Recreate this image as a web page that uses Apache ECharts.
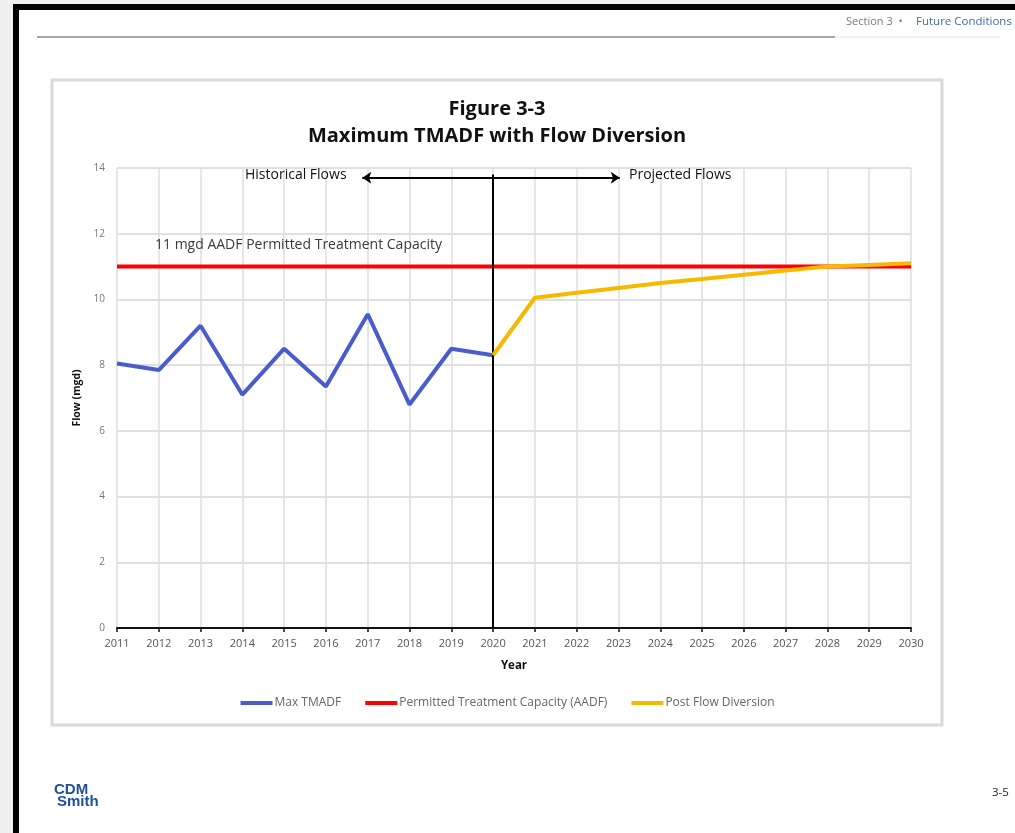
<!DOCTYPE html>
<html>
<head>
<meta charset="utf-8">
<script src="https://cdn.jsdelivr.net/npm/echarts@6/dist/echarts.min.js"></script>
<style>
html,body{margin:0;padding:0;background:#f0f0f0;}
#c{width:1015px;height:833px;}
</style>
</head>
<body>
<div id="c"></div>
<script>
const years = [2011,2012,2013,2014,2015,2016,2017,2018,2019,2020,2021,2022,2023,2024,2025,2026,2027,2028,2029,2030];
const maxTmadfYears = [2011,2012,2013,2014,2015,2016,2017,2018,2019,2020];
const maxTmadf = [8.05,7.85,9.2,7.1,8.5,7.35,9.55,6.8,8.5,8.3];
const capacity = [11,11,11,11,11,11,11,11,11,11,11,11,11,11,11,11,11,11,11,11];
const postYears = [2020,2021,2022,2023,2024,2025,2026,2027,2028,2029,2030];
const postFlow = [8.3,10.05,10.2,10.35,10.5,10.62,10.75,10.88,11.0,11.05,11.1];
const yTicks = [0,2,4,6,8,10,12,14];
const dividerYear = 2020;
const arrowLeftEnd = 2016.87;
const arrowRightEnd = 2023.03;
const arrowLevel = 13.7;

const FONT = 'Open Sans';
const chart = echarts.init(document.getElementById('c'));

const pair = (xs, ys) => xs.map((x, i) => [x, ys[i]]);

chart.setOption({
  backgroundColor: '#f0f0f0',
  animation: false,
  textStyle: { fontFamily: FONT },
  graphic: [
    { type: 'rect', shape: { x: 16, y: 7, width: 1010, height: 840 }, style: { fill: '#ffffff', stroke: '#000000', lineWidth: 6 }, z: -10 },
    { type: 'line', shape: { x1: 37, y1: 37, x2: 835, y2: 37 }, style: { stroke: '#8a8a8a', lineWidth: 1.5 }, z: -9 },
    { type: 'line', shape: { x1: 835, y1: 37, x2: 1000, y2: 37 }, style: { stroke: '#e2e2e2', lineWidth: 1 }, z: -9 },
    { type: 'rect', shape: { x: 52, y: 80, width: 890, height: 645 }, style: { fill: '#ffffff', stroke: '#dadada', lineWidth: 3 }, z: -8 },
    { type: 'text', left: 846, top: 16, style: { text: 'Section 3  •', fill: '#7a7a7a', font: '11px "Open Sans"' } },
    { type: 'text', left: 916, top: 16, style: { text: 'Future Conditions', fill: '#3d6fb5', font: '11.5px "Open Sans"' } },
    { type: 'text', x: 497, y: 99, style: { text: 'Figure 3-3', fill: '#111111', font: 'bold 20px "Open Sans"', textAlign: 'center' } },
    { type: 'text', x: 497, y: 126, style: { text: 'Maximum TMADF with Flow Diversion', fill: '#111111', font: 'bold 20px "Open Sans"', textAlign: 'center' } },
    { type: 'text', left: 245, top: 168, z: 20, style: { text: 'Historical Flows', fill: '#111111', font: '14px "Open Sans"' } },
    { type: 'text', left: 629, top: 168, z: 20, style: { text: 'Projected Flows', fill: '#111111', font: '14px "Open Sans"' } },
    { type: 'text', left: 155, top: 238, z: 20, style: { text: '11 mgd AADF Permitted Treatment Capacity', fill: '#3a3a3a', font: '14px "Open Sans"' } },
    { type: 'text', left: 54, top: 782, style: { text: 'CDM', fill: '#1f4e9c', font: 'bold 15px "Liberation Sans"' } },
    { type: 'text', left: 57, top: 794, style: { text: 'Smith', fill: '#1f4e9c', font: 'bold 15px "Liberation Sans"' } },
    { type: 'text', left: 992, top: 787, style: { text: '3-5', fill: '#222222', font: '11.5px "Open Sans"' } }
  ],
  legend: {
    bottom: 119,
    left: 'center',
    itemWidth: 32,
    itemHeight: 4,
    itemGap: 24,
    icon: 'rect',
    textStyle: { color: '#666666', fontSize: 12, fontFamily: FONT, padding: [0, 0, 0, -3] },
    data: ['Max TMADF', 'Permitted Treatment Capacity (AADF)', 'Post Flow Diversion']
  },
  grid: { left: 117, right: 104, top: 168, bottom: 205 },
  xAxis: {
    type: 'value',
    min: years[0],
    max: years[years.length - 1],
    interval: 1,
    name: 'Year',
    nameLocation: 'middle',
    nameGap: 32,
    nameTextStyle: { fontWeight: 'bold', color: '#111', fontSize: 11.5 },
    axisLine: { show: true, lineStyle: { color: '#111', width: 2 } },
    axisTick: { show: true, length: 4, lineStyle: { color: '#111', width: 1.5 } },
    axisLabel: { color: '#555', fontSize: 11, margin: 10, formatter: v => String(v) },
    splitLine: { show: true, lineStyle: { color: '#dedede', width: 1.5 } }
  },
  yAxis: {
    type: 'value',
    min: yTicks[0],
    max: yTicks[yTicks.length - 1],
    interval: 2,
    name: 'Flow (mgd)',
    nameLocation: 'middle',
    nameGap: 31,
    nameTextStyle: { fontWeight: 'bold', color: '#111', fontSize: 10.5 },
    axisLine: { show: false },
    axisTick: { show: false },
    axisLabel: { color: '#777', fontSize: 10, margin: 12 },
    splitLine: { show: true, lineStyle: { color: '#d6d6d6', width: 1.5 } }
  },
  series: [
    {
      name: 'Max TMADF',
      type: 'line',
      data: pair(maxTmadfYears, maxTmadf),
      symbol: 'none',
      color: '#4a5ccb',
      lineStyle: { width: 4, color: '#4a5ccb' },
      z: 3
    },
    {
      name: 'Permitted Treatment Capacity (AADF)',
      type: 'line',
      data: pair(years, capacity),
      symbol: 'none',
      color: '#ff0000',
      lineStyle: { width: 4, color: '#ff0000' },
      z: 4,
      markLine: {
        silent: true,
        symbol: ['none', 'arrow'],
        symbolSize: [9, 9],
        lineStyle: { color: '#000', width: 2, type: 'solid' },
        label: { show: false },
        data: [
          [{ coord: [dividerYear, arrowLevel + 0.1], symbol: 'none' }, { coord: [dividerYear, 0], symbol: 'none' }],
          [{ coord: [dividerYear, arrowLevel] }, { coord: [arrowLeftEnd, arrowLevel] }],
          [{ coord: [dividerYear, arrowLevel] }, { coord: [arrowRightEnd, arrowLevel] }]
        ]
      }
    },
    {
      name: 'Post Flow Diversion',
      type: 'line',
      data: pair(postYears, postFlow),
      symbol: 'none',
      color: '#f7b800',
      lineStyle: { width: 4, color: '#f7b800' },
      z: 5
    }
  ]
});
</script>
</body>
</html>
